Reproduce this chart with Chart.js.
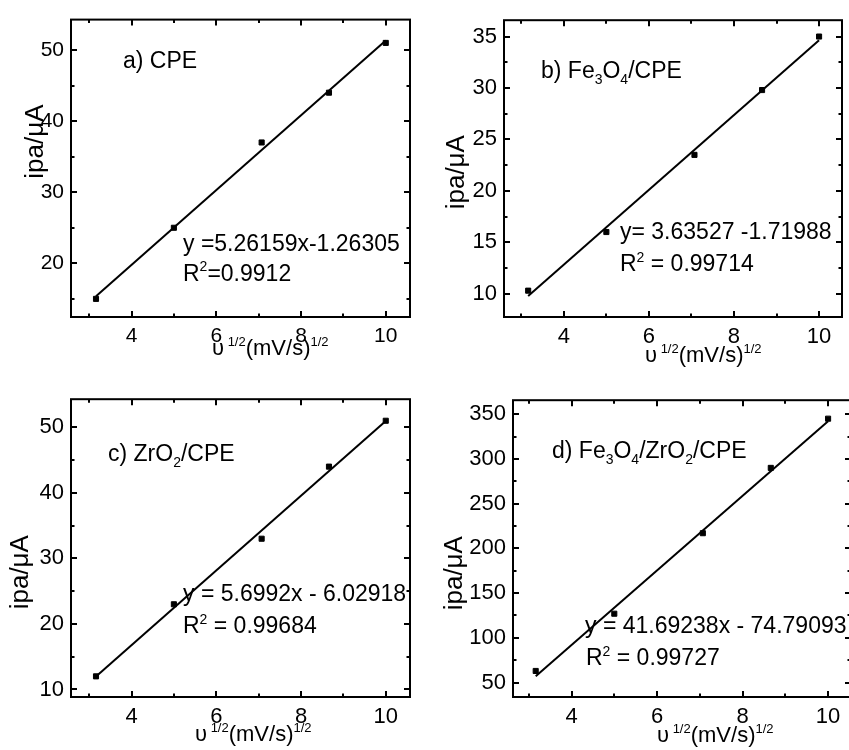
<!DOCTYPE html>
<html>
<head>
<meta charset="utf-8">
<script src="https://cdn.jsdelivr.net/npm/chart.js@4.4.1/dist/chart.umd.min.js"></script>
<style>
  html, body { margin: 0; padding: 0; background: #fff; overflow: hidden; }
  body { width: 849px; height: 750px; position: relative; }
  canvas { position: absolute; }
</style>
</head>
<body>
<canvas id="cpe"></canvas>
<canvas id="fe3o4"></canvas>
<canvas id="zro2"></canvas>
<canvas id="fe3o4zro2"></canvas>
<script>
// square root of scan rate (10, 25, 50, 75, 100 mV/s)
const sqrtRate = [3.162, 5.0, 7.071, 8.660, 10.0];

// anodic peak currents, uA
const ipaCPE = [15, 25, 37, 44, 51];
const ipaFe3O4 = [10.3, 16, 23.5, 29.8, 35];
const ipaZrO2 = [12, 23, 33, 44, 51];
const ipaFe3O4ZrO2 = [63, 127, 217, 290, 345];

// linear fits
const fitSlope = [5.26159, 3.63527, 5.6992, 41.69238];
const fitIntercept = [-1.26305, -1.71988, -6.02918, -74.79093];
const fitR2 = ["0.9912", "0.99714", "0.99684", "0.99727"];

const xTicks = [4, 6, 8, 10];
const yTicksCPE = [20, 30, 40, 50];
const yTicksFe3O4 = [10, 15, 20, 25, 30, 35];
const yTicksZrO2 = [10, 20, 30, 40, 50];
const yTicksFe3O4ZrO2 = [50, 100, 150, 200, 250, 300, 350];

const FONT = "'Liberation Sans', Arial, sans-serif";

const panels = [
  {
    id: "cpe", ipa: ipaCPE, yTicks: yTicksCPE, tickSize: 21,
    area: [71, 14, 411, 317], xRange: [2.572, 10.572], yRange: [12.45, 54.28],
    name: ["a) CPE"], nameAt: [52, 48],
    eq: (m, c) => "y =" + m + "x" + c, eqAt: [112, 231],
    r2Sep: "=", r2At: [112, 261],
    xTitleAt: [141, 38], yTitleAt: [-35, 122]
  },
  {
    id: "fe3o4", ipa: ipaFe3O4, yTicks: yTicksFe3O4, tickSize: 22,
    area: [504, 14, 843, 317], xRange: [2.594, 10.539], yRange: [7.74, 36.59],
    name: ["b) Fe", ["3", "sub"], "O", ["4", "sub"], "/CPE"], nameAt: [37, 58],
    eq: (m, c) => "y= " + m + " " + c, eqAt: [116, 219],
    r2Sep: " = ", r2At: [116, 251],
    xTitleAt: [141, 45], yTitleAt: [-47, 152]
  },
  {
    id: "zro2", ipa: ipaZrO2, yTicks: yTicksZrO2, tickSize: 22,
    area: [71, 393, 411, 697], xRange: [2.572, 10.572], yRange: [8.85, 54.29],
    name: ["c) ZrO", ["2", "sub"], "/CPE"], nameAt: [37, 62],
    eq: (m, c) => "y = " + m + "x - " + (-c), eqAt: [112, 202],
    r2Sep: " = ", r2At: [112, 234],
    xTitleAt: [124, 44], yTitleAt: [-50, 173]
  },
  {
    id: "fe3o4zro2", ipa: ipaFe3O4ZrO2, yTicks: yTicksFe3O4ZrO2, tickSize: 22,
    area: [513, 394, 852, 697], xRange: [2.631, 10.536], yRange: [33.9, 365.66],
    name: ["d) Fe", ["3", "sub"], "O", ["4", "sub"], "/ZrO", ["2", "sub"], "/CPE"], nameAt: [39, 58],
    eq: (m, c) => "y = " + m + "x - " + (-c), eqAt: [72, 233],
    r2Sep: " = ", r2At: [73, 265],
    xTitleAt: [144, 45], yTitleAt: [-58, 173]
  }
];

function minorTicks(major, range) {
  const step = major[1] - major[0];
  const out = [];
  for (let v = major[0] - step / 2; v <= range[1]; v += step) {
    if (v >= range[0]) out.push(v);
  }
  return out;
}

// text with sub/superscript pieces, left aligned on a baseline
function drawRich(ctx, x, y, parts, size) {
  ctx.textAlign = "left";
  ctx.textBaseline = "alphabetic";
  for (const part of parts) {
    const [text, mode] = Array.isArray(part) ? part : [part, ""];
    const s = mode ? Math.round(size * 0.6) : size;
    const dy = mode === "sub" ? size * 0.27 : mode === "sup" ? -size * 0.41 : 0;
    ctx.font = s + "px " + FONT;
    ctx.fillText(text, x, y + dy);
    x += ctx.measureText(text).width;
  }
}

// closed box with inward ticks on all four sides, plus the labels
const framePlugin = {
  id: "frame",
  afterDatasetsDraw(chart, args, opts) {
    const { ctx, chartArea: a, scales } = chart;
    const i = opts.index;
    const p = panels[i];
    ctx.save();
    ctx.strokeStyle = "#000";
    ctx.fillStyle = "#000";
    ctx.lineWidth = 2;
    ctx.strokeRect(a.left, a.top, a.right - a.left, a.bottom - a.top);

    ctx.beginPath();
    const xt = (vals, len) => vals.forEach(v => {
      const px = Math.round(scales.x.getPixelForValue(v));
      ctx.moveTo(px, a.bottom); ctx.lineTo(px, a.bottom - len);
      ctx.moveTo(px, a.top); ctx.lineTo(px, a.top + len);
    });
    const yt = (vals, len) => vals.forEach(v => {
      const py = Math.round(scales.y.getPixelForValue(v));
      ctx.moveTo(a.left, py); ctx.lineTo(a.left + len, py);
      ctx.moveTo(a.right, py); ctx.lineTo(a.right - len, py);
    });
    xt(xTicks, 6);
    xt(minorTicks(xTicks, p.xRange), 3.5);
    yt(p.yTicks, 6);
    yt(minorTicks(p.yTicks, p.yRange), 3.5);
    ctx.stroke();

    drawRich(ctx, a.left + p.nameAt[0], a.top + p.nameAt[1], p.name, 23);
    drawRich(ctx, a.left + p.eqAt[0], a.top + p.eqAt[1], [p.eq(fitSlope[i], fitIntercept[i])], 23);
    drawRich(ctx, a.left + p.r2At[0], a.top + p.r2At[1], ["R", ["2", "sup"], p.r2Sep + fitR2[i]], 23);

    // axis titles
    drawRich(ctx, a.left + p.xTitleAt[0], a.bottom + p.xTitleAt[1],
      ["\u03c5", [" 1/2", "sup"], "(mV/s)", ["1/2", "sup"]], 22);
    const ys = 26;
    ctx.translate(a.left + p.yTitleAt[0] + ys * 0.26, a.top + p.yTitleAt[1]);
    ctx.rotate(-Math.PI / 2);
    ctx.font = ys + "px " + FONT;
    ctx.textAlign = "center";
    ctx.textBaseline = "alphabetic";
    ctx.fillText("ipa/\u03bcA", 0, 0);
    ctx.restore();
  }
};

const padL = 72, padT = 14, padR = 4, padB = 58;

panels.forEach((p, i) => {
  const [l, t, r, b] = p.area;
  const canvas = document.getElementById(p.id);
  canvas.width = r - l + padL + padR;
  canvas.height = b - t + padT + padB;
  canvas.style.left = (l - padL) + "px";
  canvas.style.top = (t - padT) + "px";

  const x0 = sqrtRate[0], x1 = sqrtRate[sqrtRate.length - 1];
  const fit = [x0, x1].map(x => ({ x: x, y: fitSlope[i] * x + fitIntercept[i] }));

  const tickFont = { family: FONT, size: p.tickSize };

  new Chart(canvas, {
    type: "scatter",
    data: {
      datasets: [
        {
          data: sqrtRate.map((x, k) => ({ x: x, y: p.ipa[k] })),
          pointStyle: "rect",
          pointRadius: 3.6,
          backgroundColor: "#000",
          borderColor: "#000",
          borderWidth: 1
        },
        {
          data: fit,
          showLine: true,
          borderColor: "#000",
          borderWidth: 2,
          pointRadius: 0
        }
      ]
    },
    options: {
      responsive: false,
      animation: false,
      devicePixelRatio: 1,
      layout: { padding: { top: padT, right: padR, left: 0, bottom: 0 } },
      plugins: {
        legend: { display: false },
        tooltip: { enabled: false },
        frame: { index: i }
      },
      scales: {
        x: {
          type: "linear",
          min: p.xRange[0],
          max: p.xRange[1],
          grid: { display: false, drawTicks: false },
          border: { display: false },
          ticks: { color: "#000", font: tickFont, padding: 7, maxRotation: 0 },
          afterBuildTicks: s => { s.ticks = xTicks.map(v => ({ value: v })); },
          afterFit: s => { s.height = padB; }
        },
        y: {
          type: "linear",
          min: p.yRange[0],
          max: p.yRange[1],
          grid: { display: false, drawTicks: false },
          border: { display: false },
          ticks: { color: "#000", font: tickFont, padding: 7 },
          afterBuildTicks: s => { s.ticks = p.yTicks.map(v => ({ value: v })); },
          afterFit: s => { s.width = padL; }
        }
      }
    },
    plugins: [framePlugin]
  });
});
</script>
</body>
</html>
